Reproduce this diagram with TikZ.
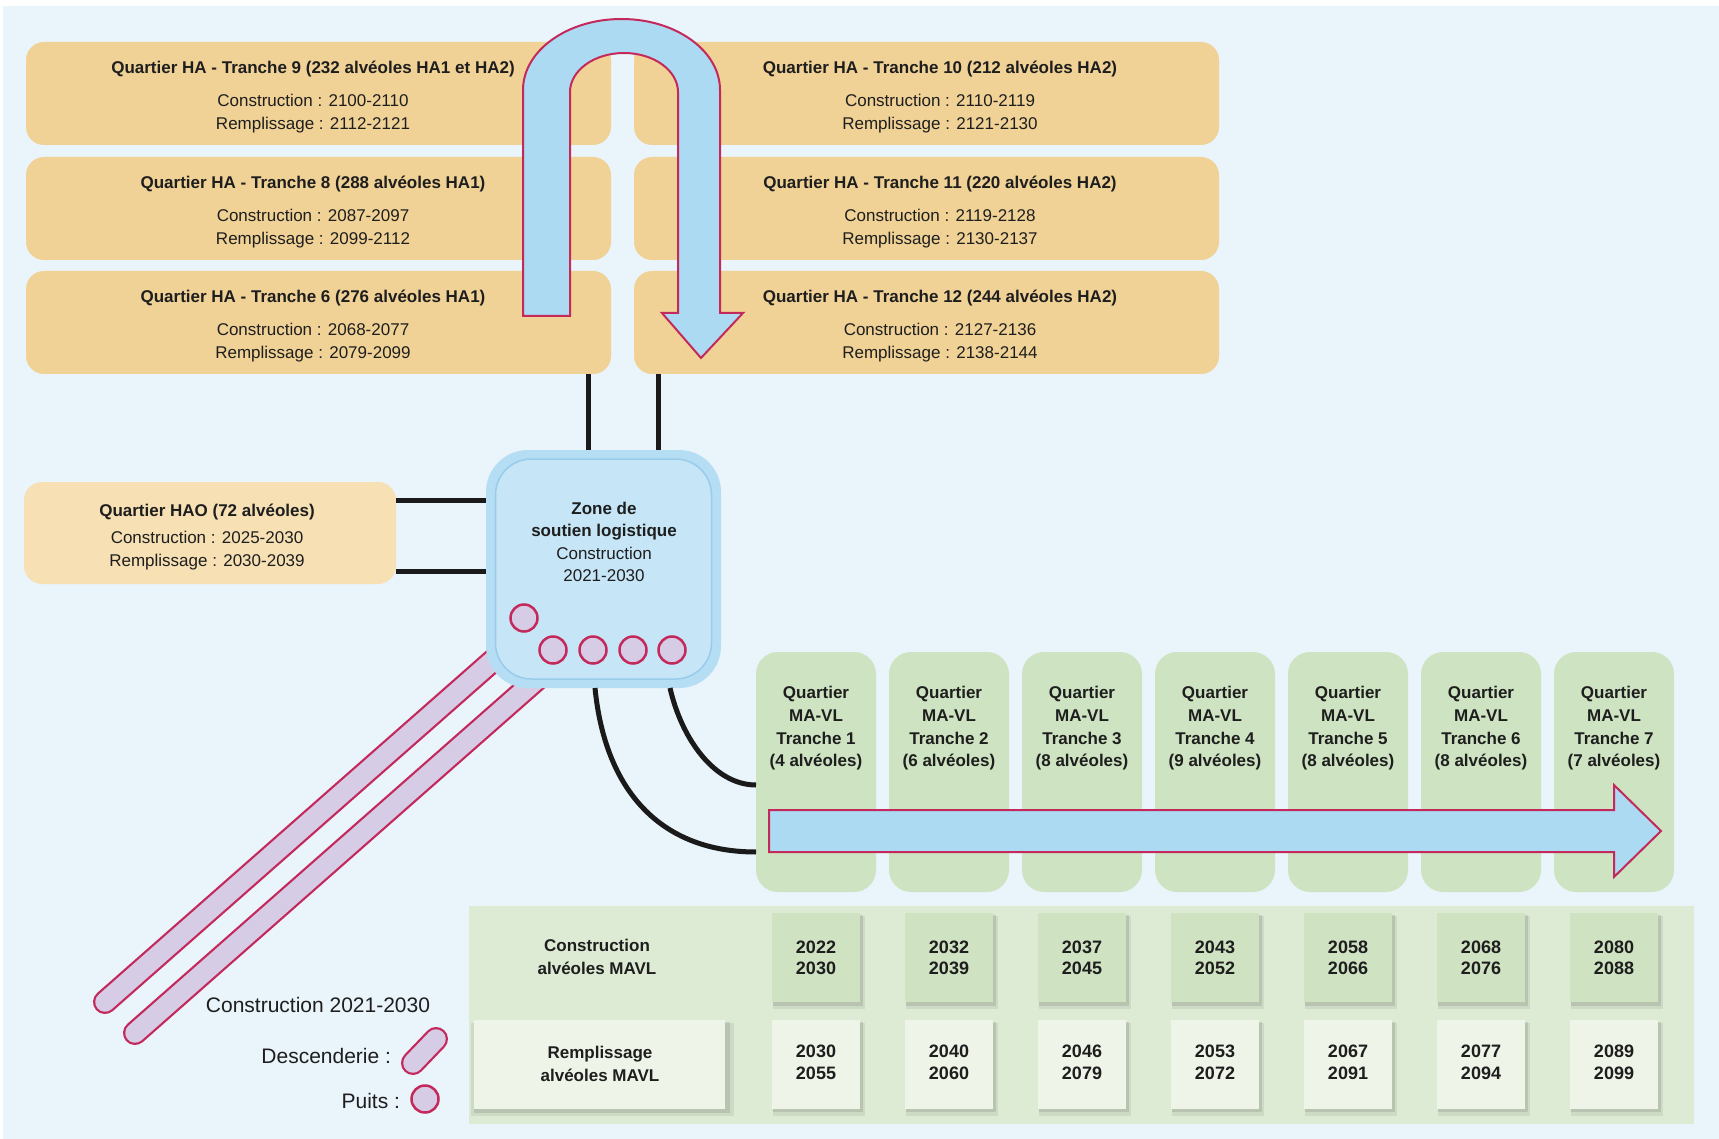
\documentclass[tikz,border=0pt]{standalone}
\usepackage{fontspec}
\setmainfont{Liberation Sans}
\usetikzlibrary{shadows}
\definecolor{bgblue}{HTML}{EAF4FB}
\definecolor{haor}{HTML}{F0D296}
\definecolor{haolight}{HTML}{F6E0B4}
\definecolor{zrim}{HTML}{B5DDF3}
\definecolor{zin}{HTML}{C6E6F7}
\definecolor{zbord}{HTML}{98CCEA}
\definecolor{arrblue}{HTML}{ADDAF3}
\definecolor{crim}{HTML}{C4295B}
\definecolor{lav}{HTML}{D6CCE6}
\definecolor{colgreen}{HTML}{CEE3C1}
\definecolor{panelgreen}{HTML}{DDEBD4}
\definecolor{cboxgreen}{HTML}{CFE3C2}
\definecolor{rboxgreen}{HTML}{EEF5E8}
\definecolor{txt}{HTML}{1E1E1E}
\definecolor{connc}{HTML}{1A1A1A}
\tikzset{
  every node/.style={inner sep=0pt, outer sep=0pt, text=txt},
  tbold/.style={font=\fontsize{17}{20}\selectfont\bfseries},
  treg/.style={font=\fontsize{17}{20}\selectfont},
  tyear/.style={font=\fontsize{18}{21}\selectfont\bfseries},
  tlegend/.style={font=\fontsize{21}{24}\selectfont},
  habox/.style={fill=haor, rounded corners=18pt, minimum width=585pt, minimum height=103pt},
  haobox/.style={fill=haolight, rounded corners=18pt, minimum width=372pt, minimum height=102pt},
  zonerim/.style={fill=zrim, rounded corners=42pt, minimum width=235pt, minimum height=238pt},
  zoneinner/.style={fill=zin, draw=zbord, line width=1.5pt, rounded corners=36pt, minimum width=216pt, minimum height=220pt},
  puits/.style={circle, fill=lav, draw=crim, line width=2.5pt, minimum size=27pt},
  conn/.style={draw=connc, line width=5pt},
  bigarrow/.style={fill=arrblue, draw=crim, line width=2pt, line join=miter},
  colbox/.style={fill=colgreen, rounded corners=22pt, minimum width=120pt, minimum height=240pt},
  yshadow/.style={general shadow={fill=black, opacity=0.10, shadow xshift=2pt, shadow yshift=-3pt, shadow scale=1.02},
                  general shadow={fill=black, opacity=0.07, shadow xshift=3pt, shadow yshift=-5pt, shadow scale=1.05}},
  cbox/.style={fill=cboxgreen, minimum width=88pt, minimum height=89pt, yshadow},
  rbox/.style={fill=rboxgreen, minimum width=88pt, minimum height=89pt, yshadow},
  rlabbox/.style={fill=rboxgreen, minimum width=251pt, minimum height=89pt, yshadow},
  panel/.style={fill=panelgreen, minimum width=1225pt, minimum height=218pt},
}
\newcommand\HAbox[7]{%
  \node[habox] (#1) at (#2+292.5,#3+51.5) {};
  \node[tbold,anchor=base] (#1t) at (#4,#3+32) {#5};
  \node[treg,anchor=base] (#1c) at (#4,#3+65) {#6};
  \node[treg,anchor=base] (#1r) at (#4,#3+88) {#7};
}
\begin{document}
\begin{tikzpicture}[x=1pt,y=-1pt]
\useasboundingbox (0,0) rectangle (1719,1139);
\fill[white] (0,0) rectangle (1719,1139);
\fill[bgblue] (3,6) rectangle (1719,1139);

% HA boxes
\HAbox{ha9}{26}{42}{313}{Quartier HA - Tranche 9 (232 alvéoles HA1 et HA2)}{Construction : 2100-2110}{Remplissage : 2112-2121}
\HAbox{ha8}{26}{157}{313}{Quartier HA - Tranche 8 (288 alvéoles HA1)}{Construction : 2087-2097}{Remplissage : 2099-2112}
\HAbox{ha6}{26}{271}{313}{Quartier HA - Tranche 6 (276 alvéoles HA1)}{Construction : 2068-2077}{Remplissage : 2079-2099}
\HAbox{ha10}{634}{42}{940}{Quartier HA - Tranche 10 (212 alvéoles HA2)}{Construction : 2110-2119}{Remplissage : 2121-2130}
\HAbox{ha11}{634}{157}{940}{Quartier HA - Tranche 11 (220 alvéoles HA2)}{Construction : 2119-2128}{Remplissage : 2130-2137}
\HAbox{ha12}{634}{271}{940}{Quartier HA - Tranche 12 (244 alvéoles HA2)}{Construction : 2127-2136}{Remplissage : 2138-2144}

% U-turn arrow
\draw[bigarrow] (523,316) -- (523,90)
  .. controls (523,50.8) and (567.1,19) .. (621.5,19)
  .. controls (675.9,19) and (720,50.8) .. (720,90)
  -- (720,313) -- (743,313) -- (701,358) -- (662,313) -- (678,313) -- (678,92)
  .. controls (678,70.5) and (653.8,53) .. (624,53)
  .. controls (594.2,53) and (570,70.5) .. (570,92)
  -- (570,316) -- cycle;

% HAO box
\node[haobox] (hao) at (210,533) {};
\node[tbold,anchor=base] (haot) at (207,516) {Quartier HAO (72 alvéoles)};
\node[treg,anchor=base] (haoc) at (207,543) {Construction : 2025-2030};
\node[treg,anchor=base] (haor) at (207,566) {Remplissage : 2030-2039};

% descenderies (under the zone)
\coordinate (d1a) at (105,1002); \coordinate (d1b) at (555,606);
\coordinate (d2a) at (135,1033); \coordinate (d2b) at (585,637);
\foreach \a/\b in {d1a/d1b,d2a/d2b}{
  \draw[line width=24pt, crim, line cap=round] (\a) -- (\b);
  \draw[line width=19.5pt, lav, line cap=round] (\a) -- (\b);
}

% zone de soutien logistique
\node[zonerim] (zone) at (603.5,569) {};
\node[zoneinner] (zonein) at (zone.center) {};
\node[tbold,anchor=base] (z1) at (604,514) {Zone de};
\node[tbold,anchor=base] (z2) at (604,536) {soutien logistique};
\node[treg,anchor=base] (z3) at (604,559) {Construction};
\node[treg,anchor=base] (z4) at (604,581) {2021-2030};
\node[puits] (p1) at (524,618) {};
\node[puits] (p2) at (553,650) {};
\node[puits] (p3) at (593,650) {};
\node[puits] (p4) at (633,650) {};
\node[puits] (p5) at (672,650) {};

% connectors to zone
\coordinate (v1) at (588,0); \coordinate (v2) at (658,0);
\coordinate (h1) at (0,500); \coordinate (h2) at (0,571);
\draw[conn] (ha6.south -| v1) -- (zone.north -| v1);
\draw[conn] (ha12.south -| v2) -- (zone.north -| v2);
\draw[conn] (hao.east |- h1) -- (zone.west |- h1);
\draw[conn] (hao.east |- h2) -- (zone.west |- h2);

% MA-VL columns and year boxes
\node[panel] (panel) at (1081.5,1015) {};
\node[tbold,anchor=base] (clab1) at (597,951) {Construction};
\node[tbold,anchor=base] (clab2) at (597,974) {alvéoles MAVL};
\node[rlabbox] (rlab) at (599.5,1064.5) {};
\node[tbold,anchor=base] (rlab1) at (600,1058) {Remplissage};
\node[tbold,anchor=base] (rlab2) at (600,1081) {alvéoles MAVL};

\foreach \i/\n/\ca/\cb/\ra/\rb in {1/4/2022/2030/2030/2055, 2/6/2032/2039/2040/2060,
   3/8/2037/2045/2046/2079, 4/9/2043/2052/2053/2072, 5/8/2058/2066/2067/2091,
   6/8/2068/2076/2077/2094, 7/7/2080/2088/2089/2099}{
  \pgfmathsetmacro\cx{816+133*(\i-1)}
  \node[colbox] (col\i) at (\cx,772) {};
  \node[tbold,anchor=base] (cq\i) at (\cx,698) {Quartier};
  \node[tbold,anchor=base] (cm\i) at (\cx,721) {MA-VL};
  \node[tbold,anchor=base] (ct\i) at (\cx,744) {Tranche \i};
  \node[tbold,anchor=base] (cn\i) at (\cx,766) {(\n\ alvéoles)};
  \node[cbox] (cb\i) at (\cx,957.5) {};
  \node[tyear,anchor=base] (cba\i) at (\cx,953.5) {\ca};
  \node[tyear,anchor=base] (cbb\i) at (\cx,974.5) {\cb};
  \node[rbox] (rb\i) at (\cx,1064) {};
  \node[tyear,anchor=base] (rba\i) at (\cx,1057.5) {\ra};
  \node[tyear,anchor=base] (rbb\i) at (\cx,1079.5) {\rb};
}

% curves from zone to MA-VL
\coordinate (c1) at (595,0); \coordinate (c2) at (670,0);
\coordinate (e1) at (0,852); \coordinate (e2) at (0,785);
\draw[conn] (zone.south -| c1) .. controls (605,790) and (660,852) .. (col1.west |- e1);
\draw[conn] (zone.south -| c2) .. controls (682,740) and (715,785) .. (col1.west |- e2);

% horizontal arrow
\draw[bigarrow] (769,810) -- (1614,810) -- (1614,785) -- (1661,831) -- (1614,877)
  -- (1614,852) -- (769,852) -- cycle;

% legend
\node[tlegend,anchor=base] (leg1) at (318,1012) {Construction 2021-2030};
\node[tlegend,anchor=base east] (leg2) at (391,1063.5) {Descenderie :};
\node[tlegend,anchor=base east] (leg3) at (400,1108.5) {Puits :};
\coordinate (lda) at (413,1063); \coordinate (ldb) at (436,1039);
\draw[line width=24pt, crim, line cap=round] (lda) -- (ldb);
\draw[line width=19.5pt, lav, line cap=round] (lda) -- (ldb);
\node[puits] (legp) at (425,1099) {};
\end{tikzpicture}
\end{document}
